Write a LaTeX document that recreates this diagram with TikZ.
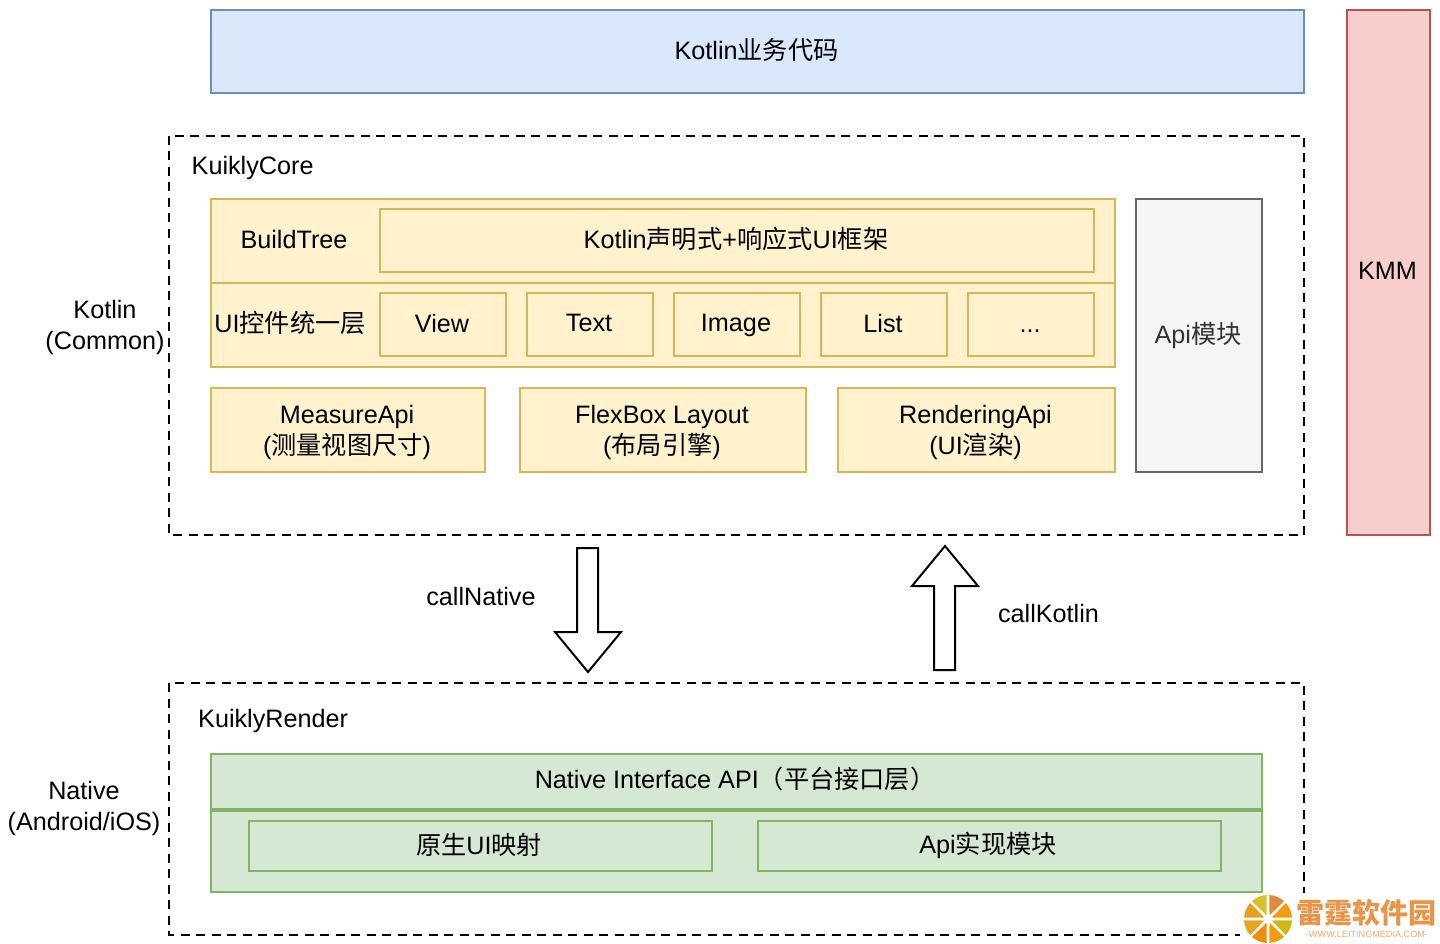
\documentclass[tikz,border=0pt]{standalone}
\usepackage{fontspec}
\setmainfont{Liberation Sans}
\newfontfamily\cjk{Noto Sans CJK SC}
\newcommand{\zh}[1]{{\cjk #1}}
\definecolor{blueF}{HTML}{DAE8FC}\definecolor{blueD}{HTML}{6C8EBF}
\definecolor{redF}{HTML}{F8CECC}\definecolor{redD}{HTML}{B85450}
\definecolor{yelF}{HTML}{FFF2CC}\definecolor{yelD}{HTML}{D6B656}
\definecolor{grnF}{HTML}{D5E8D4}\definecolor{grnD}{HTML}{82B366}
\definecolor{gryF}{HTML}{F5F5F5}\definecolor{gryD}{HTML}{666666}
\definecolor{wm}{HTML}{E8954A}
\definecolor{wa}{HTML}{CDB90F}\definecolor{wb}{HTML}{F39C12}\definecolor{wc}{HTML}{F08C10}
\definecolor{we}{HTML}{E8A020}\definecolor{wf}{HTML}{E6A520}
\definecolor{wg}{HTML}{E08A3C}\definecolor{wh}{HTML}{D9C02A}
\tikzset{x=1pt,y=-1pt,
 lab/.style={font=\fontsize{25.2}{31}\selectfont,align=center,text=black,inner sep=0pt},
 bx/.style={draw,line width=2pt,minimum width=0pt,rectangle},
 blueb/.style={bx,draw=blueD,fill=blueF},
 redb/.style={bx,draw=redD,fill=redF},
 yelb/.style={bx,draw=yelD,fill=yelF},
 grnb/.style={bx,draw=grnD,fill=grnF},
 gryb/.style={bx,draw=gryD,fill=gryF},
 dashbox/.style={draw=black,line width=2pt,dash pattern=on 9pt off 6.5pt},
 blockarrow/.style={draw=black,line width=2pt,fill=white,line join=miter}}
\newcommand{\boxat}[6]{% style,name,x1,y1,x2,y2
 \path[#1] (#3,#4) rectangle (#5,#6);
 \coordinate (#2) at ({(#3+#5)/2},{(#4+#6)/2});}
\begin{document}
\begin{tikzpicture}
\useasboundingbox (0,0) rectangle (1440,944);
\fill[white] (0,0) rectangle (1440,944);
% top
\boxat{blueb}{biz}{211}{10}{1304}{93}
\node[lab] (tbiz) at (756.5,50) {Kotlin\zh{业务代码}};
\boxat{redb}{kmm}{1347}{10}{1430}{535}
\node[lab] (tkmm) at (1387.5,271) {KMM};
% core
\draw[dashbox] (169,136) rectangle (1304,535);
\node[lab,anchor=west] (tcore) at (191.5,167.5) {KuiklyCore};
\boxat{yelb}{r1}{211}{199}{1115}{283}
\boxat{yelb}{r2}{211}{283}{1115}{367}
\node[lab] (tbuild) at (294,239) {BuildTree};
\boxat{yelb}{frame}{380}{209}{1094}{272}
\node[lab] (tframe) at (736,238.5) {Kotlin\zh{声明式}+\zh{响应式}UI\zh{框架}};
\node[lab] (tuni) at (290,323) {UI\zh{控件统一层}};
\boxat{yelb}{v1}{380}{293}{506}{356}
\node[lab] (t1) at (442,323) {View};
\boxat{yelb}{v2}{527}{293}{653}{356}
\node[lab] (t2) at (589,323) {Text};
\boxat{yelb}{v3}{674}{293}{800}{356}
\node[lab] (t3) at (736,325) {Image};
\boxat{yelb}{v4}{821}{293}{947}{356}
\node[lab] (t4) at (883,323) {List};
\boxat{yelb}{v5}{968}{293}{1094}{356}
\node[lab,anchor=base] (t5) at (1030,332) {...};
\boxat{yelb}{m1}{211}{388}{485}{472}
\node[lab] (tm1) at (347,432) {MeasureApi\\(\zh{测量视图尺寸})};
\boxat{yelb}{m2}{520}{388}{806}{472}
\node[lab] (tm2) at (662,432) {FlexBox Layout\\(\zh{布局引擎})};
\boxat{yelb}{m3}{838}{388}{1115}{472}
\node[lab] (tm3) at (975.5,432) {RenderingApi\\(UI\zh{渲染})};
\boxat{gryb}{api}{1136}{199}{1262}{472}
\node[lab,text=black!80] (tapi) at (1198,335.5) {Api\zh{模块}};
\node[lab] (tkot) at (105,327.5) {Kotlin\\(Common)};
% arrows
\draw[blockarrow] (577,548) -- (598,548) -- (598,632) -- (621,632) -- (588,672) -- (555,632) -- (577,632) -- cycle;
\draw[blockarrow] (934,670) -- (955,670) -- (955,586) -- (978,586) -- (945,546) -- (912,586) -- (934,586) -- cycle;
\node[lab] (tcn) at (481,596.5) {callNative};
\node[lab] (tck) at (1048.5,613.5) {callKotlin};
% render
\draw[dashbox] (169,683) rectangle (1304,935);
\node[lab,anchor=west] (trend) at (198,721) {KuiklyRender};
\boxat{grnb}{n1}{211}{754}{1262}{809}
\node[lab] (tn1) at (735,779) {Native Interface API\zh{（平台接口层）}};
\boxat{grnb}{n2}{211}{811}{1262}{892}
\boxat{grnb}{n3}{249}{821}{712}{871}
\node[lab] (tn3) at (479,845) {\zh{原生}UI\zh{映射}};
\boxat{grnb}{n4}{758}{821}{1221}{871}
\node[lab] (tn4) at (988,845) {Api\zh{实现模块}};
\node[lab] (tnat) at (84,808) {Native\\(Android/iOS)};
% watermark
\fill[white] (1240,893) rectangle (1440,944);
\begin{scope}[y=1pt]
\coordinate (wheel) at (1268,-919);
\foreach \a/\c in {0/wb,45/wg,90/wh,135/we,180/wf,225/wc,270/wb,315/wa}{
 \fill[\c] ([shift={(\a+22.5:4)}]wheel) -- ([shift={(\a+3:24)}]wheel) arc[start angle=\a+3,end angle=\a+42,radius=24] -- cycle;
}
\end{scope}
\node[font=\cjk\bfseries\fontsize{28}{28}\selectfont,text=wm,inner sep=0pt] (wm1) at (1366,913) {雷霆软件园};
\node[font=\fontsize{9.1}{9}\selectfont,text=wm!80,inner sep=0pt] (wm2) at (1367,934) {-WWW.LEITINGMEDIA.COM-};
\end{tikzpicture}
\end{document}
